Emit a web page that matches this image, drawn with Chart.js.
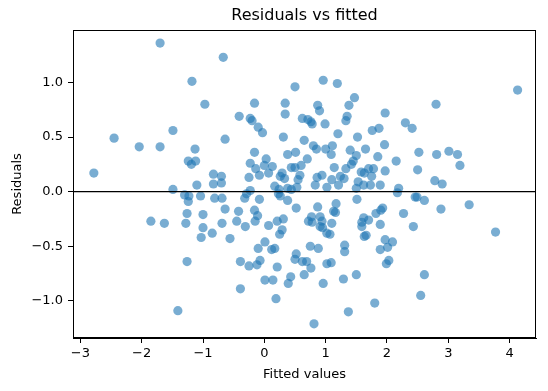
<!DOCTYPE html>
<html>
<head>
    <title>Residuals vs fitted</title>
    <script src="https://cdn.jsdelivr.net/npm/chart.js"></script>
    <style>
        html, body { margin: 0; padding: 0; background: #fff; }
        #wrap { width: 548px; height: 391px; }
    </style>
</head>
<body>
    <div id="wrap"><canvas id="residChart" width="548" height="391"></canvas></div>

    <script>
        // values
        const fittedValues = [
            -1.70, -0.67, -1.18, -0.97, -1.49, -2.45, -2.04, -1.70, -0.64, -1.13,
            -1.24, -1.19, -1.12, -2.78, -0.83, -0.70, -0.83, -0.70, -1.49, -1.10,
            -1.30, -1.23, -1.24, -1.04, -0.81, -0.69, -0.64, -1.26, -1.00, -1.85,
            -1.63, -1.28, -1.00, -0.69, -1.03, -0.85, -0.56, -1.26, -1.41,
            0.50, 0.96, 1.19, -0.16, 0.34, 0.34, 0.87, 0.90, 1.47, 1.38,
            1.97, -0.41, -0.23, -0.20, 0.62, 0.71, 0.76, 0.78, 0.99, 1.35,
            1.33, -0.10, -0.03, 0.31, 0.65, 1.20, 1.52, 1.76, 1.87, 1.96,
            0.80, 0.85, 1.00, 1.11, 1.09, 1.40, 1.65, -0.16, 0.38, 0.51,
            0.70, 1.50, 1.45, 1.42, 1.85, -0.23, 0.03, 0.00, 0.13, -0.14,
            -0.08, 0.07, 0.44, 0.50, 0.60, 1.14, 1.33, 1.58, 1.70, 1.78,
            1.63, 1.75, -0.25, 0.26, 0.29, 0.33, 0.58, 0.55, 0.94, 0.86,
            1.10, 1.24, 1.30, 1.53, 1.97, 1.89, 0.83, 1.21, 0.17, 0.53,
            -0.23, 0.24, 0.38, 0.44, 1.02, 1.62, 1.73, 2.19, 1.50, 2.15,
            2.52, 2.30, 2.41, 4.13, 2.80, 2.81, 3.01, 3.15, 3.19, 2.50,
            2.78, 2.90, -0.29, -0.32, -0.08, 0.23, 0.26, 0.38, 1.51, 2.17,
            2.46, 2.49, 2.61, 2.88, 3.34, 3.77, 1.93, 1.90, 2.27, 1.89,
            2.43, 1.97, 2.09, 1.89, 2.01, 2.03, 1.99, 2.61, 2.55, -0.42,
            -0.16, -0.11, -0.15, -0.31, -0.45, 0.07, 0.21, 0.31, 0.52, 0.87,
            0.77, 0.72, 0.78, 0.91, 0.94, 0.91, 0.95, 1.10, 1.17, 1.13,
            1.16, 1.02, 1.07, 0.29, 0.25, 0.01, -0.10, 0.12, 0.17, 0.75,
            0.88, 1.31, 1.31, 1.62, 1.59, 1.59, 1.70, 1.82, 1.63, 1.66,
            -0.39, -0.25, -0.12, -0.07, 0.21, 0.52, 0.50, 0.62, 0.69, 0.76,
            1.02, 1.09, 0.01, 0.14, 0.43, 0.39, 0.65, 0.96, 1.29, 1.50,
            -0.39, 0.19, 1.80, 1.37, 0.81
        ];
        const residuals = [
            1.36, 1.23, 1.01, 0.80, 0.56, 0.49, 0.41, 0.41, 0.48, 0.39,
            0.28, 0.25, 0.28, 0.17, 0.16, 0.14, 0.07, 0.08, 0.02, 0.06,
            -0.03, -0.04, -0.09, -0.04, -0.06, -0.06, -0.16, -0.20, -0.21, -0.27,
            -0.29, -0.29, -0.33, -0.29, -0.42, -0.38, -0.43, -0.64, -1.09,
            0.96, 1.02, 0.99, 0.81, 0.81, 0.71, 0.79, 0.74, 0.86, 0.79,
            0.72, 0.69, 0.67, 0.65, 0.67, 0.66, 0.64, 0.62, 0.62, 0.69,
            0.65, 0.59, 0.54, 0.50, 0.47, 0.53, 0.50, 0.56, 0.58, 0.43,
            0.42, 0.39, 0.39, 0.42, 0.34, 0.38, 0.39, 0.36, 0.34, 0.36,
            0.30, 0.33, 0.28, 0.25, 0.32, 0.26, 0.30, 0.24, 0.23, 0.21,
            0.15, 0.17, 0.22, 0.22, 0.24, 0.22, 0.21, 0.18, 0.21, 0.21,
            0.17, 0.14, 0.13, 0.14, 0.17, 0.12, 0.15, 0.11, 0.15, 0.13,
            0.11, 0.14, 0.12, 0.09, 0.19, 0.06, 0.06, 0.06, 0.05, 0.04,
            0.01, 0.02, 0.03, 0.02, 0.04, 0.06, 0.06, 0.03, 0.03, 0.28,
            0.36, 0.63, 0.58, 0.93, 0.80, 0.34, 0.37, 0.34, 0.24, 0.20,
            0.10, 0.07, -0.02, -0.06, -0.07, -0.02, -0.04, -0.08, -0.07, -0.01,
            -0.05, -0.05, -0.08, -0.16, -0.12, -0.37, -0.15, -0.17, -0.20, -0.30,
            -0.32, -0.44, -0.46, -0.53, -0.51, -0.63, -0.66, -0.76, -0.95, -0.18,
            -0.17, -0.22, -0.27, -0.32, -0.27, -0.31, -0.27, -0.25, -0.15, -0.14,
            -0.23, -0.27, -0.28, -0.23, -0.27, -0.32, -0.33, -0.29, -0.11, -0.18,
            -0.19, -0.38, -0.39, -0.35, -0.39, -0.46, -0.52, -0.53, -0.52, -0.50,
            -0.52, -0.49, -0.55, -0.24, -0.28, -0.32, -0.26, -0.20, -0.41, -0.40,
            -0.64, -0.68, -0.67, -0.63, -0.69, -0.57, -0.62, -0.64, -0.64, -0.70,
            -0.66, -0.65, -0.81, -0.81, -0.78, -0.84, -0.76, -0.84, -0.80, -0.76,
            -0.89, -0.98, -1.02, -1.10, -1.21
        ];
        const xTicks = [-3, -2, -1, 0, 1, 2, 3, 4];
        const yTicks = [-1.0, -0.5, 0.0, 0.5, 1.0];
        const chartTitle = 'Residuals vs fitted';

        const points = fittedValues.map((x, i) => ({ x: x, y: residuals[i] }));
        const fmt = v => String(v).replace('-', '\u2212');
        const fmt1 = v => v.toFixed(1).replace('-', '\u2212');
        const fontFamily = "'DejaVu Sans', sans-serif";

        // title centred over the plot area, zero line, box around the axes
        const framePlugin = {
            id: 'frame',
            afterDatasetsDraw(chart) {
                const { ctx, chartArea: a, scales } = chart;
                const y0 = scales.y.getPixelForValue(0);
                ctx.save();
                ctx.strokeStyle = '#000';
                ctx.lineWidth = 1.3;
                ctx.beginPath();
                ctx.moveTo(a.left, y0);
                ctx.lineTo(a.right, y0);
                ctx.stroke();
                ctx.lineWidth = 1;
                ctx.strokeRect(a.left + 0.5, a.top + 0.5, a.right - a.left - 1, a.bottom - a.top - 1);

                ctx.fillStyle = '#000';
                ctx.font = '16px ' + fontFamily;
                ctx.textAlign = 'center';
                ctx.textBaseline = 'middle';
                ctx.fillText(chartTitle, (a.left + a.right) / 2, 16);
                ctx.restore();
            }
        };

        const font = { family: fontFamily, size: 13 };

        new Chart(document.getElementById('residChart'), {
            type: 'scatter',
            data: {
                datasets: [{
                    label: 'residuals',
                    data: points,
                    backgroundColor: 'rgba(31, 119, 180, 0.6)',
                    borderWidth: 0,
                    pointRadius: 4.6,
                    pointHoverRadius: 4.6
                }]
            },
            options: {
                responsive: false,
                animation: false,
                layout: { padding: { left: 10, right: 12, top: 30, bottom: 9 } },
                plugins: {
                    legend: { display: false },
                    tooltip: { enabled: false }
                },
                scales: {
                    x: {
                        type: 'linear',
                        min: -3.12,
                        max: 4.43,
                        afterBuildTicks: s => { s.ticks = xTicks.map(v => ({ value: v })); },
                        afterFit: s => { s.height = 44; },
                        grid: { drawOnChartArea: false, drawTicks: true, tickLength: 5, color: '#000' },
                        border: { display: true, color: '#000' },
                        ticks: { color: '#000', font: font, padding: 3, maxRotation: 0, callback: v => fmt(v) },
                        title: { display: true, text: 'Fitted values', color: '#000', font: font, padding: { top: 2, bottom: 0 } }
                    },
                    y: {
                        type: 'linear',
                        min: -1.34,
                        max: 1.48,
                        afterBuildTicks: s => { s.ticks = yTicks.map(v => ({ value: v })); },
                        afterFit: s => { s.width = 63; },
                        grid: { drawOnChartArea: false, drawTicks: true, tickLength: 5, color: '#000' },
                        border: { display: true, color: '#000' },
                        ticks: { color: '#000', font: font, padding: 5, callback: v => fmt1(v) },
                        title: { display: true, text: 'Residuals', color: '#000', font: font, padding: { top: 0, bottom: 0 } }
                    }
                }
            },
            plugins: [framePlugin]
        });
    </script>
</body>
</html>
